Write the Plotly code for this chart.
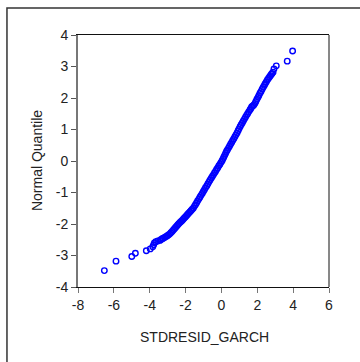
import plotly.graph_objects as go

# Lower-tail outliers, dense body, upper-tail outliers
resid_x = [-6.53, -5.88, -5.00, -4.80, -4.19, -3.97, -3.83, -3.78, -3.74, -3.66, -3.55,
           -3.43, -3.36, -3.30, -3.24, -3.17, -3.10, -3.03, -2.96, -2.89, -2.82, -2.75,
           -2.68, -2.62, -2.56, -2.50, -2.44, -2.38, -2.31, -2.25, -2.19, -2.13, -2.07,
           -2.01, -1.95, -1.89, -1.83, -1.76, -1.70, -1.64, -1.57, -1.51, -1.45, -1.39,
           -1.33, -1.26, -1.20, -1.14, -1.07, -1.01, -0.95, -0.89, -0.82, -0.76, -0.70,
           -0.64, -0.57, -0.51, -0.45, -0.39, -0.33, -0.27, -0.21, -0.15, -0.09, -0.03,
           0.03, 0.08, 0.13, 0.18, 0.23, 0.28, 0.33, 0.39, 0.45, 0.51, 0.57, 0.63, 0.69,
           0.75, 0.81, 0.87, 0.93, 0.98, 1.04, 1.10, 1.16, 1.22, 1.28, 1.34, 1.40, 1.46,
           1.52, 1.59, 1.64, 1.69, 1.75, 1.81, 1.87, 1.92, 1.98, 2.04, 2.09, 2.15, 2.21,
           2.27, 2.33, 2.39, 2.44, 2.50, 2.56, 2.62, 2.68, 2.73, 2.78, 2.82, 2.88, 2.93,
           3.06, 3.67, 3.97]
normal_q = [-3.48, -3.18, -3.03, -2.93, -2.85, -2.79, -2.72, -2.66, -2.60, -2.56, -2.54,
            -2.52, -2.49, -2.47, -2.45, -2.43, -2.40, -2.38, -2.35, -2.32, -2.28, -2.24,
            -2.19, -2.15, -2.11, -2.07, -2.03, -1.99, -1.95, -1.92, -1.89, -1.85, -1.81,
            -1.78, -1.74, -1.70, -1.66, -1.62, -1.58, -1.54, -1.50, -1.44, -1.39, -1.33,
            -1.27, -1.21, -1.15, -1.09, -1.03, -0.97, -0.91, -0.85, -0.79, -0.73, -0.67,
            -0.61, -0.55, -0.49, -0.44, -0.38, -0.33, -0.27, -0.22, -0.16, -0.11, -0.05,
            0.00, 0.06, 0.12, 0.18, 0.24, 0.30, 0.35, 0.41, 0.47, 0.53, 0.59, 0.65, 0.71,
            0.77, 0.83, 0.89, 0.96, 1.02, 1.09, 1.15, 1.21, 1.27, 1.33, 1.39, 1.45, 1.50,
            1.56, 1.62, 1.67, 1.72, 1.75, 1.78, 1.83, 1.89, 1.96, 2.02, 2.08, 2.15, 2.21,
            2.28, 2.34, 2.40, 2.45, 2.51, 2.57, 2.62, 2.67, 2.71, 2.75, 2.78, 2.82, 2.92,
            3.02, 3.17, 3.49]

x_ticks = [-8, -6, -4, -2, 0, 2, 4, 6]
x_tick_labels = ["-8", "-6", "-4", "-2", "0", "2", "4", "6"]
y_ticks = [-4, -3, -2, -1, 0, 1, 2, 3, 4]
y_tick_labels = ["-4", "-3", "-2", "-1", "0", "1", "2", "3", "4"]
x_title = "STDRESID_GARCH"
y_title = "Normal Quantile"

fig = go.Figure()
fig.add_trace(go.Scatter(
    x=resid_x, y=normal_q, mode="markers",
    marker=dict(symbol="circle-open", size=5.5, color="#0000ff",
                line=dict(width=1.4, color="#0000ff")),
    showlegend=False, hoverinfo="skip"))

font = dict(family="Liberation Sans, Arial, sans-serif", size=14, color="#222222")

fig.update_layout(
    width=360, height=362,
    margin=dict(l=78, r=31, t=35, b=75),
    paper_bgcolor="white", plot_bgcolor="white",
    font=font,
    xaxis=dict(range=[-8, 6], tickvals=x_ticks, ticktext=x_tick_labels,
               ticks="outside", ticklen=5,
               tickcolor="#777777", tickwidth=1, showgrid=False, zeroline=False,
               showline=True, linecolor="#111111", linewidth=1, mirror=True,
               tickfont=font),
    yaxis=dict(range=[-4, 4], tickvals=y_ticks, ticktext=y_tick_labels,
               ticks="outside", ticklen=5,
               tickcolor="#555555", tickwidth=1, showgrid=False, zeroline=False,
               showline=True, linecolor="#777777", linewidth=2, mirror=False,
               tickfont=font),
    shapes=[
        dict(type="line", xref="paper", yref="paper", x0=1, x1=1, y0=0, y1=1,
             line=dict(color="#111111", width=1)),
        dict(type="rect", xref="paper", yref="paper", x0=-0.283, x1=1.3,
             y0=-0.5, y1=1.107, line=dict(color="#333333", width=1.5)),
    ],
    annotations=[
        dict(text=x_title, xref="paper", yref="paper", x=0.502, y=-0.198,
             xanchor="center", yanchor="middle", showarrow=False, font=font),
        dict(text=y_title, xref="paper", yref="paper", x=-0.163, y=0.5,
             xanchor="center", yanchor="middle", showarrow=False, textangle=-90,
             font=font),
    ],
)

fig.write_html("out.html")
